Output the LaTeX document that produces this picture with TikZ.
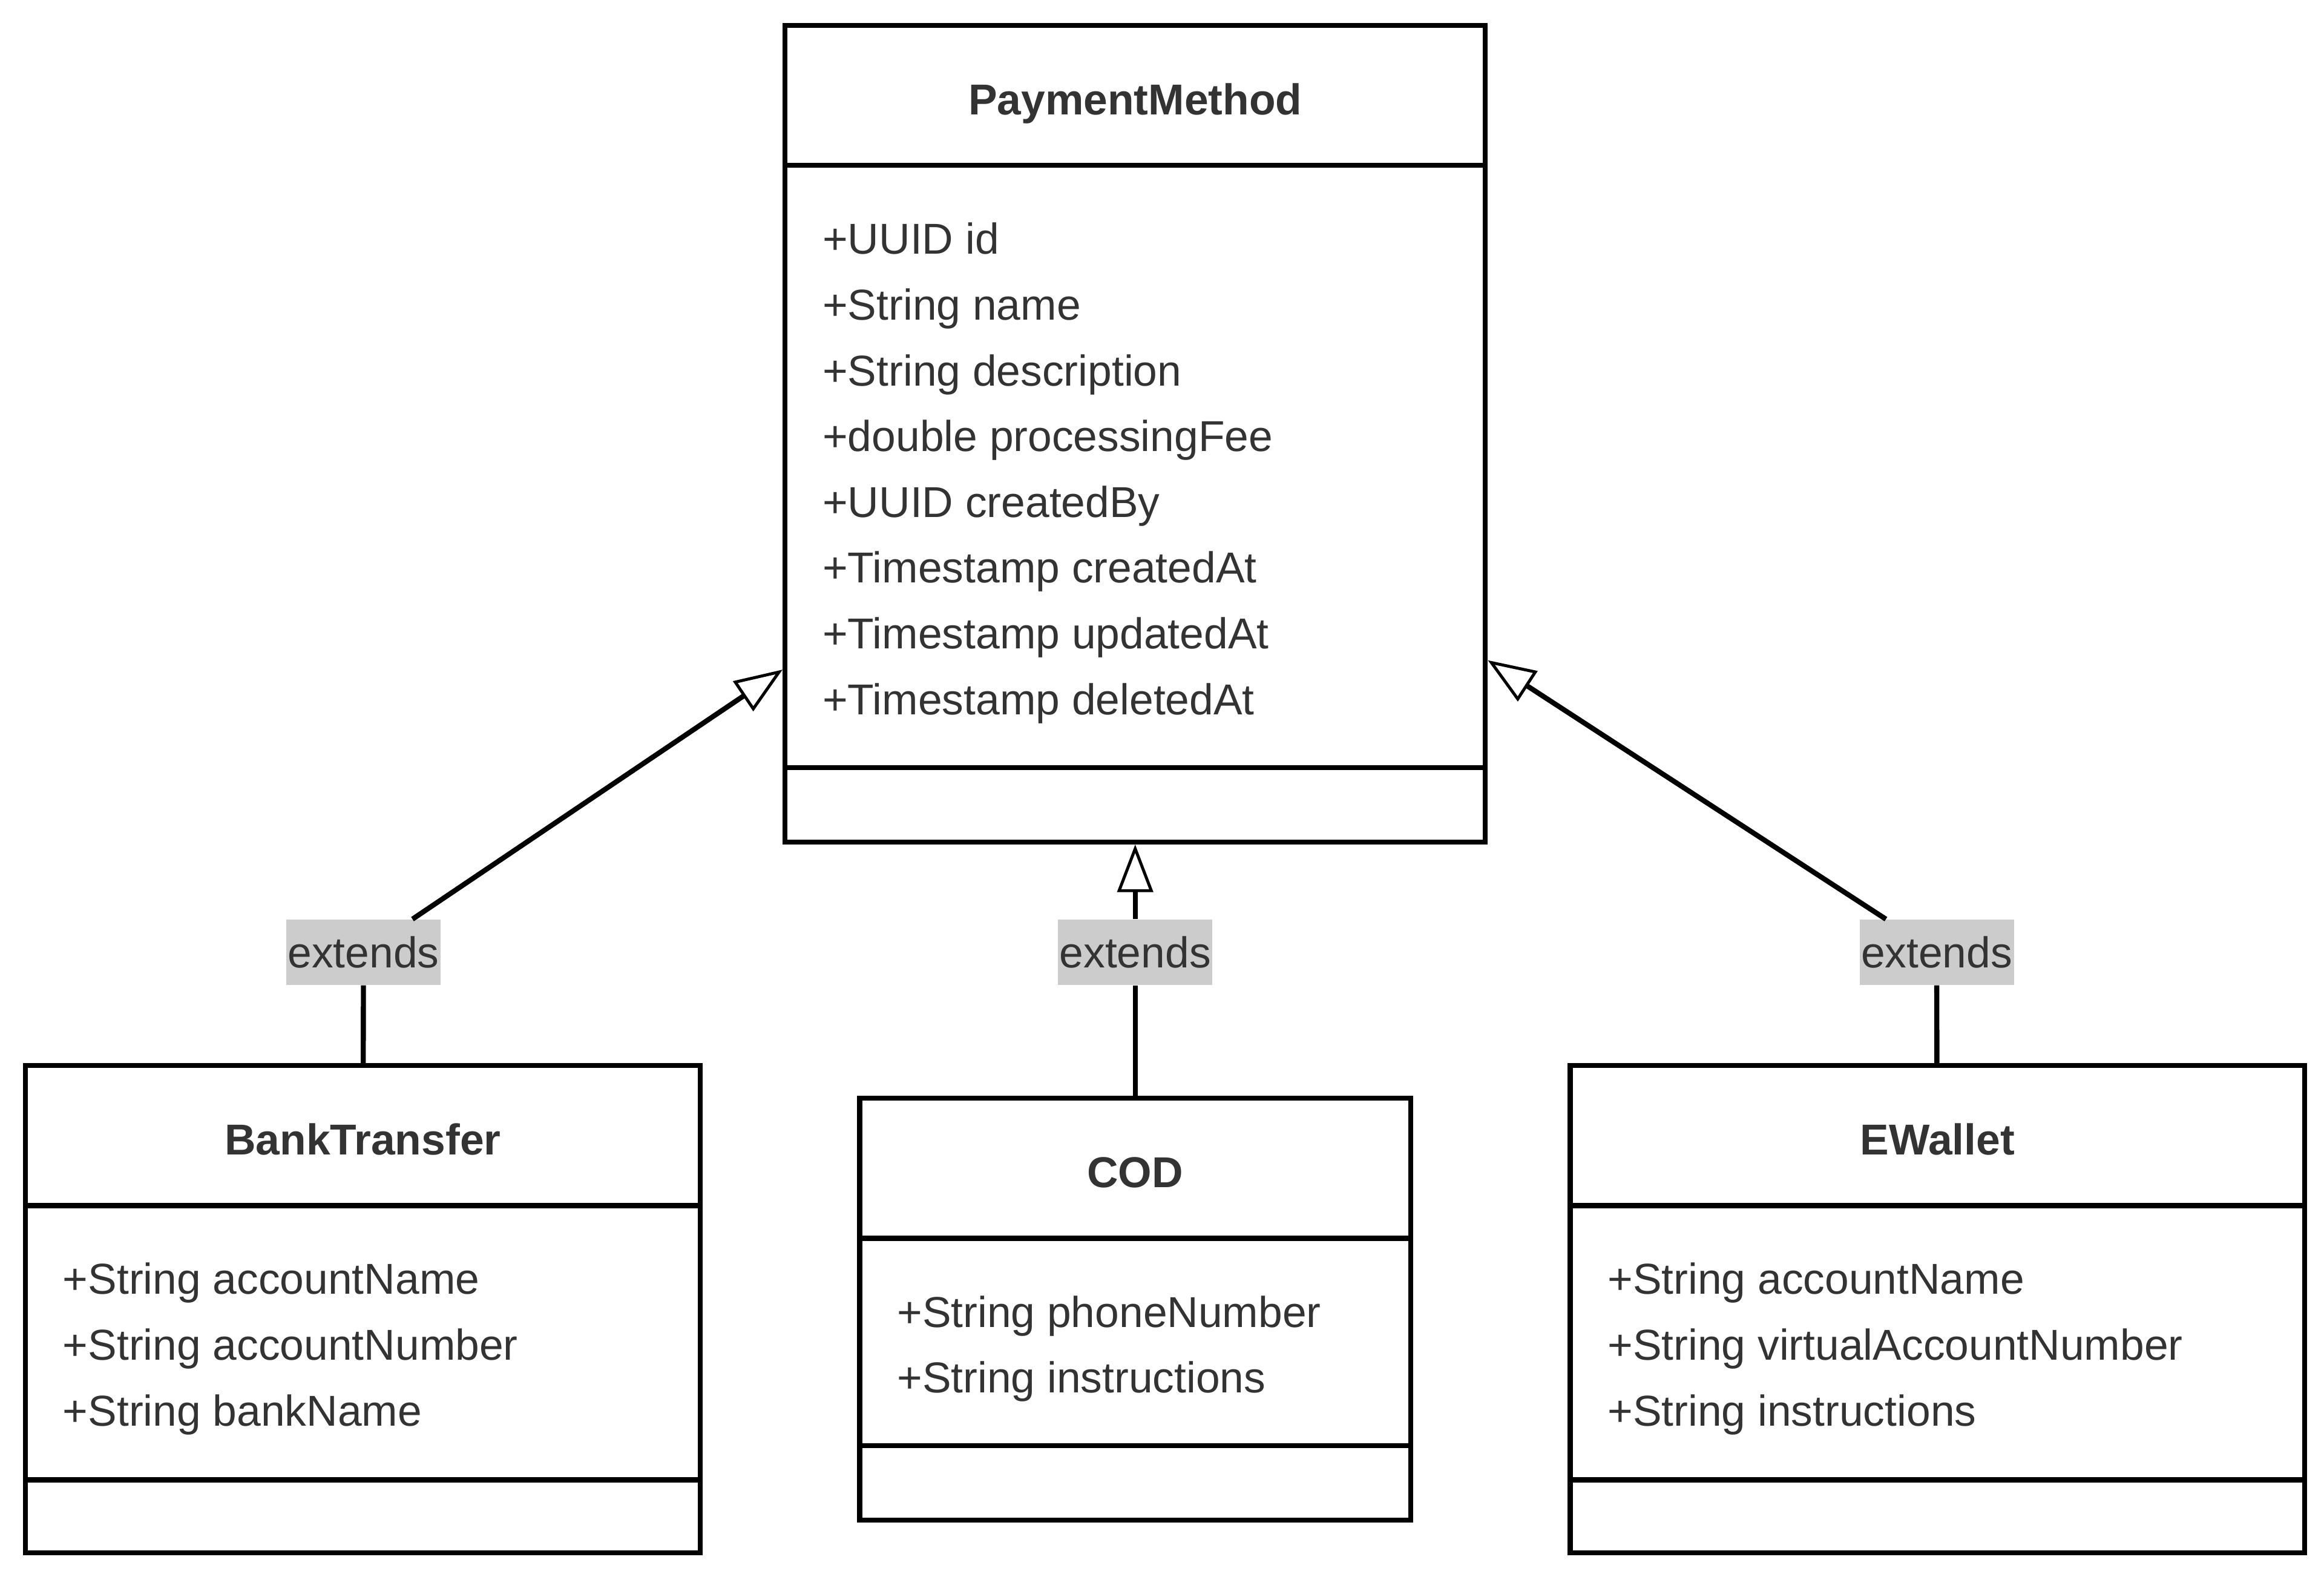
\documentclass[tikz,border=0pt]{standalone}
\usepackage{fontspec}
\setmainfont{Liberation Sans}
\usetikzlibrary{arrows.meta}
\definecolor{umltext}{HTML}{333333}
\definecolor{umllabel}{HTML}{CCCCCC}
\tikzset{
  classbox/.style={draw=black, line width=3.4pt, inner sep=0pt, fill=white},
  classtitle/.style={text=umltext, font=\fontsize{29}{35}\selectfont\bfseries, anchor=base, inner sep=0pt},
  attr/.style={text=umltext, font=\fontsize{29}{35}\selectfont, anchor=base west, inner sep=0pt},
  compsep/.style={line width=3.4pt},
  extlabel/.style={fill=umllabel, text=umltext, font=\fontsize{29}{35}\selectfont, inner sep=1pt, minimum height=44pt},
  plain/.style={line width=3.4pt},
  extends/.style={line width=3.4pt, -{Triangle[length=32pt, width=24pt, line width=2pt, fill=white]}}
}
\begin{document}
\begin{tikzpicture}[x=1pt, y=-1pt]
    \useasboundingbox (0,0) rectangle (1560,1056);
    \node[classbox, minimum width=470pt, minimum height=548pt] (pm) at (762,291) {};
    \node[classtitle] (pmname) at (762,77) {PaymentMethod};
    \draw[compsep] (527,111) -- (997,111);
    \draw[compsep] (527,515) -- (997,515);
    \node[attr] (pmid) at (552,170.5) {+UUID id};
    \node[attr] (pmnm) at (552,214.6) {+String name};
    \node[attr] (pmdesc) at (552,258.8) {+String description};
    \node[attr] (pmfee) at (552,302.9) {+double processingFee};
    \node[attr] (pmcby) at (552,347.1) {+UUID createdBy};
    \node[attr] (pmcat) at (552,391.2) {+Timestamp createdAt};
    \node[attr] (pmuat) at (552,435.3) {+Timestamp updatedAt};
    \node[attr] (pmdat) at (552,479.5) {+Timestamp deletedAt};

    \node[classbox, minimum width=453pt, minimum height=327pt] (bt) at (243.5,878.5) {};
    \node[classtitle] (btname) at (243.5,775) {BankTransfer};
    \draw[compsep] (17,809) -- (470,809);
    \draw[compsep] (17,993) -- (470,993);
    \node[attr] (btacn) at (42,868.5) {+String accountName};
    \node[attr] (btaco) at (42,912.6) {+String accountNumber};
    \node[attr] (btbank) at (42,956.8) {+String bankName};

    \node[classbox, minimum width=370pt, minimum height=283pt] (cod) at (762,878.5) {};
    \node[classtitle] (codname) at (762,797) {COD};
    \draw[compsep] (577,831) -- (947,831);
    \draw[compsep] (577,970) -- (947,970);
    \node[attr] (codphone) at (602,890.5) {+String phoneNumber};
    \node[attr] (codinst) at (602,934.6) {+String instructions};

    \node[classbox, minimum width=493pt, minimum height=327pt] (ew) at (1300.5,878.5) {};
    \node[classtitle] (ewname) at (1300.5,775) {EWallet};
    \draw[compsep] (1054,809) -- (1547,809);
    \draw[compsep] (1054,993) -- (1547,993);
    \node[attr] (ewacn) at (1079,868.5) {+String accountName};
    \node[attr] (ewvan) at (1079,912.6) {+String virtualAccountNumber};
    \node[attr] (ewinst) at (1079,956.8) {+String instructions};

    \node[extlabel] (lbbt) at (244,639) {extends};
    \node[extlabel] (lbcod) at (762,639) {extends};
    \node[extlabel] (lbew) at (1300,639) {extends};
    \draw[plain] (bt) -- (lbbt);
    \draw[extends] (lbbt) -- (pm);
    \draw[plain] (cod) -- (lbcod);
    \draw[extends] (lbcod) -- (pm);
    \draw[plain] (ew) -- (lbew);
    \draw[extends] (lbew) -- (pm);
\end{tikzpicture}
\end{document}
